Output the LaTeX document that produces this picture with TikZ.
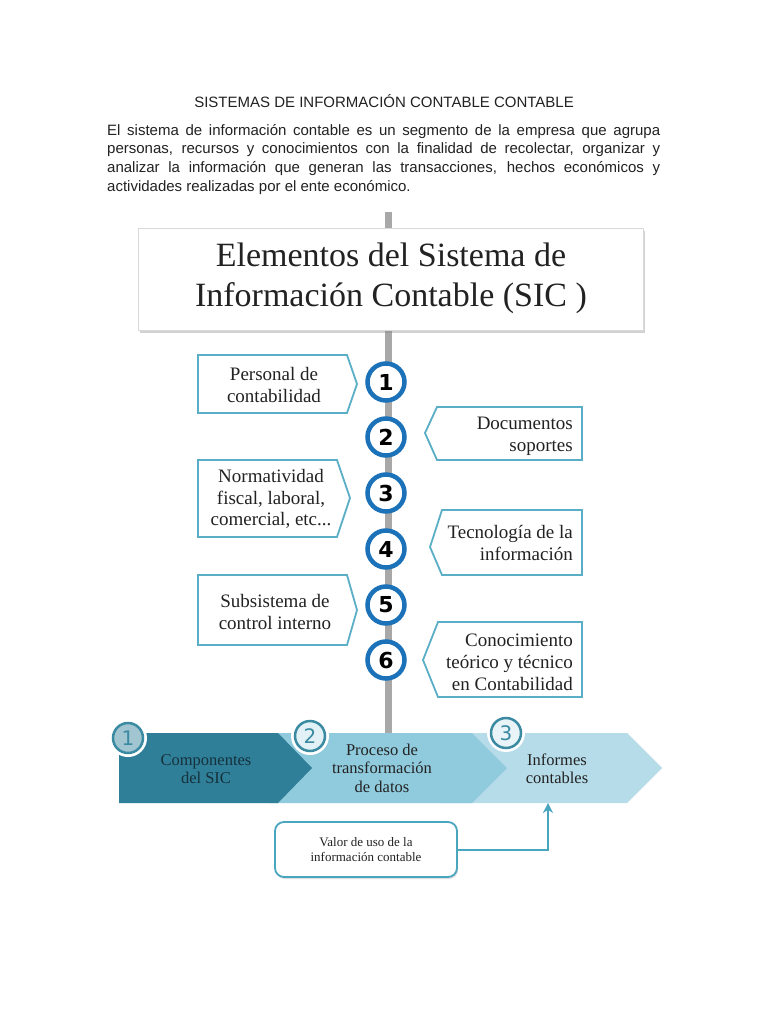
\documentclass[tikz,border=0pt]{standalone}
\usepackage{fontspec}
\setmainfont{Liberation Serif}
\newfontfamily\arialf{Liberation Sans}
\newfontfamily\numf{DejaVu Sans}
\usetikzlibrary{shadows,arrows.meta}
\definecolor{barc}{HTML}{A8A8A8}
\definecolor{boxc}{HTML}{5AAEC6}
\definecolor{circc}{HTML}{1B72B8}
\definecolor{bdark}{HTML}{2F7F98}
\definecolor{bmid}{HTML}{90CADD}
\definecolor{blight}{HTML}{B6DCE9}
\definecolor{tealc}{HTML}{3A8AA2}
\definecolor{valc}{HTML}{4AA5BF}
\definecolor{txtc}{HTML}{222222}
\definecolor{dtxt}{HTML}{16303C}
\tikzset{
  lbox/.style={draw=boxc, line width=1.8pt, fill=white, line join=miter},
  boxtxt/.style={font=\fontsize{19}{21.8}\selectfont, inner sep=0pt, text=txtc},
  numcirc/.style={circle, draw=circc, line width=4.5pt, fill=white, minimum size=37pt, inner sep=0pt, font=\numf\bfseries\fontsize{22}{22}\selectfont},
  bantxt/.style={font=\fontsize{16.5}{18.5}\selectfont, align=center, inner sep=0pt},
  bancirc/.style={circle, draw=tealc, line width=2.5pt, minimum size=30pt, inner sep=0pt, text=tealc, font=\numf\fontsize{20}{20}\selectfont},
}
\begin{document}
\begin{tikzpicture}[x=1pt,y=-1pt]
\useasboundingbox[fill=white] (0,0) rectangle (768,1024);

% heading and paragraph
\node[font=\arialf\fontsize{15}{18}\selectfont, text=txtc, inner sep=0pt] (title) at (384,101) {SISTEMAS DE INFORMACIÓN CONTABLE CONTABLE};
\node[anchor=north west, inner sep=0pt, text width=553pt, align=justify, text=txtc,
      font=\arialf\fontsize{15}{18.7}\selectfont] (para) at (107,124)
  {El sistema de información contable es un segmento de la empresa que agrupa\linebreak
   personas, recursos y conocimientos con la finalidad de recolectar, organizar y\linebreak
   analizar la información que generan las transacciones, hechos económicos y\linebreak
   actividades realizadas por el ente económico.};

% vertical bar
\fill[barc] (384.5,212) rectangle (391.5,735);

% header box
\node[draw=black!15, fill=white, drop shadow={shadow xshift=2pt, shadow yshift=-3pt, opacity=0.35},
      minimum width=505pt, minimum height=102pt, inner sep=0pt] (hdr) at (390.5,279) {};
\node[font=\fontsize{34}{40}\selectfont, align=center, inner sep=0pt, text=txtc] (hdrtxt) at (391,278)
  {Elementos del Sistema de\\Información Contable (SIC~)};

% left boxes
\draw[lbox] (198,355) -- (347,355) -- (357,384) -- (347,413) -- (198,413) -- cycle;
\draw[lbox] (198,460) -- (337,460) -- (350,498) -- (337,537) -- (198,537) -- cycle;
\draw[lbox] (198,575) -- (347,575) -- (357,610) -- (347,645) -- (198,645) -- cycle;
% right boxes
\draw[lbox] (437,407) -- (582,407) -- (582,460) -- (437,460) -- (425,433) -- cycle;
\draw[lbox] (442,510) -- (582,510) -- (582,575) -- (442,575) -- (430,547) -- cycle;
\draw[lbox] (438,622) -- (582,622) -- (582,697) -- (438,697) -- (423,660) -- cycle;

\node[boxtxt, align=center] (t1) at (274,385) {Personal de\\contabilidad};
\node[boxtxt, align=center] (t3) at (271,499) {Normatividad\\fiscal, laboral,\\comercial, etc...};
\node[boxtxt, align=center] (t5) at (275,612) {Subsistema de\\control interno};
\node[boxtxt, align=right, anchor=east] (t2) at (573,436) {Documentos\\soportes};
\node[boxtxt, align=right, anchor=east] (t4) at (573,543) {Tecnología de la\\información};
\node[boxtxt, align=right, anchor=east] (t6) at (573,662) {Conocimiento\\teórico y técnico\\en Contabilidad};

% numbered circles
\node[numcirc] (c1) at (386,382) {1};
\node[numcirc] (c2) at (386,437) {2};
\node[numcirc] (c3) at (386,493) {3};
\node[numcirc] (c4) at (386,549) {4};
\node[numcirc] (c5) at (386,605) {5};
\node[numcirc] (c6) at (386,660) {6};

% banner
\fill[blight] (440,733) -- (627,733) -- (662,768) -- (627,803) -- (440,803) -- cycle;
\fill[bmid] (270,733) -- (472,733) -- (507,768) -- (472,803) -- (270,803) -- cycle;
\fill[bdark] (119,733) -- (278,733) -- (312,768) -- (278,803) -- (119,803) -- cycle;
\coordinate (infbot) at (548,803);

\node[bantxt, text=dtxt] (comp) at (206,769) {Componentes\\del SIC};
\node[bantxt, text=txtc] (proc) at (382,768) {Proceso de\\transformación\\de datos};
\node[bantxt, text=txtc] (inf) at (557,769) {Informes\\contables};

\fill[white] (128,738) circle (19);
\node[bancirc, fill=bdark!45!white] (b1) at (128,738) {1};
\fill[white] (310,736) circle (19);
\node[bancirc, fill=blight!40!white] (b2) at (310,736) {2};
\fill[white] (506,733) circle (19);
\node[bancirc, fill=blight!30!white] (b3) at (506,733) {3};

% value box and arrow
\node[draw=valc, line width=1.8pt, fill=white, rounded corners=9pt,
      drop shadow={shadow xshift=1pt, shadow yshift=-2pt, opacity=0.25},
      minimum width=182pt, minimum height=55pt, inner sep=0pt, align=center,
      font=\fontsize{13}{15.5}\selectfont, text=txtc] (valor) at (366,849.5)
  {Valor de uso de la\\información contable};
\draw[valc, line width=2pt, -{Stealth[length=10pt,width=10pt]}] (valor.east) -| (infbot);
\end{tikzpicture}
\end{document}
